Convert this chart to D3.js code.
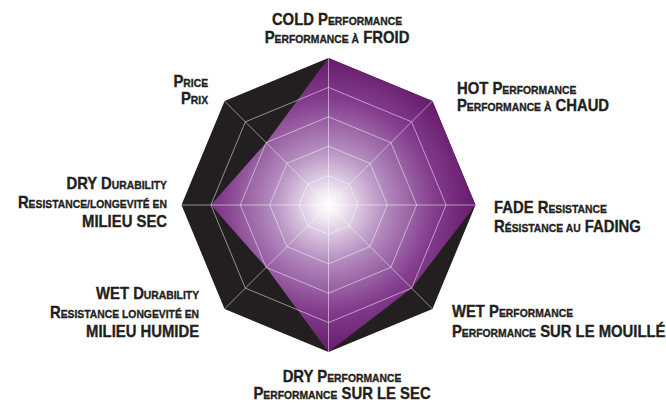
<!DOCTYPE html>
<html>
<head>
<meta charset="utf-8">
<script src="https://cdn.jsdelivr.net/npm/d3@7"></script>
<style>
  html, body { margin: 0; padding: 0; background: #fff; }
  svg { display: block; }
  .lbl { font-family: "Liberation Sans", Arial, sans-serif; font-weight: bold; fill: #231f20; stroke: #231f20; stroke-width: 0.35; }
</style>
</head>
<body>
<script>
// axes, clockwise from the top
var axes = ['COLD Performance', 'HOT Performance', 'FADE Resistance', 'WET Performance',
            'DRY Performance', 'WET Durability', 'DRY Durability', 'Price'];
var values = [1, 1, 1, 0.8, 1, 0.6, 0.8, 0.6];
var levels = [0.2, 0.4, 0.6, 0.8, 1.0];

// label lines (lower case letters are drawn as small caps)
var labels = [
  ['COLD Performance', 'Performance à FROID'],
  ['HOT Performance', 'Performance à CHAUD'],
  ['FADE Resistance', 'Résistance au FADING'],
  ['WET Performance', 'Performance SUR LE MOUILLÉ'],
  ['DRY Performance', 'Performance SUR LE SEC'],
  ['WET Durability', 'Resistance longevité en', 'MILIEU HUMIDE'],
  ['DRY Durability', 'Resistance/longevité en', 'MILIEU SEC'],
  ['Price', 'Prix']
];

var width = 666, height = 403;
var cx = 328.5, cy = 205, R = 147;

// where each label sits relative to the end of its axis
var labelPos = [
  { dx: 8.5, dy: -33, anchor: 'middle', lh: 18 },
  { dx: 24.5, dy: -7, anchor: 'start', lh: 16.5 },
  { dx: 18.5, dy: 8, anchor: 'start', lh: 19 },
  { dx: 19.5, dy: 8, anchor: 'start', lh: 20 },
  { dx: 13.5, dy: 30, anchor: 'middle', lh: 17 },
  { dx: -25.5, dy: -10, anchor: 'end', lh: 19 },
  { dx: -14.5, dy: -16, anchor: 'end', lh: 19 },
  { dx: -16.5, dy: -14, anchor: 'end', lh: 17 }
];

var svg = d3.select('body').append('svg').attr('width', width).attr('height', height);

var r = d3.scaleLinear().domain([0, 1]).range([0, R]);
var angle = d3.scalePoint().domain(axes)
  .range([0, 2 * Math.PI * (axes.length - 1) / axes.length]);

var radial = d3.lineRadial()
  .angle(function (d, i) { return angle(axes[i]); })
  .radius(function (d) { return r(d); })
  .curve(d3.curveLinearClosed);

var defs = svg.append('defs');
var grad = defs.append('radialGradient').attr('id', 'purple')
  .attr('gradientUnits', 'userSpaceOnUse')
  .attr('cx', 0).attr('cy', 0).attr('r', R);
[[0, '#ffffff'], [0.1, '#f0e8f2'], [0.4, '#b188bd'], [0.72, '#833d8c'], [1, '#661a6b']].forEach(function (s) {
  grad.append('stop').attr('offset', s[0]).attr('stop-color', s[1]);
});

var g = svg.append('g').attr('transform', 'translate(' + cx + ',' + cy + ')');

// dark background octagon
g.append('path')
  .attr('d', radial(axes.map(function () { return 1; })))
  .attr('fill', '#231f20');

// value polygon
g.append('path')
  .attr('d', radial(values))
  .attr('fill', 'url(#purple)');

// grid rings and spokes on top
g.selectAll('.ring')
  .data(levels.slice(0, -1))
  .enter()
  .append('path')
  .attr('d', function (l) { return radial(axes.map(function () { return l; })); })
  .attr('fill', 'none')
  .attr('stroke', '#fff')
  .attr('stroke-opacity', 0.5)
  .attr('stroke-width', 1);

g.selectAll('.spoke')
  .data(axes)
  .enter()
  .append('line')
  .attr('x1', 0).attr('y1', 0)
  .attr('x2', function (a) { return r(1) * Math.sin(angle(a)); })
  .attr('y2', function (a) { return -r(1) * Math.cos(angle(a)); })
  .attr('stroke', '#fff')
  .attr('stroke-opacity', 0.5)
  .attr('stroke-width', 1);

// labels
var bigSize = 16.5, smallSize = 11.5, squeeze = 0.9;

function isLow(ch) { return ch !== ch.toUpperCase(); }

function addLine(text, str) {
  // split into runs of big / small caps
  var runs = [];
  for (var i = 0; i < str.length; i++) {
    var ch = str[i];
    var small = isLow(ch);
    if ((ch === ' ' || ch === '/') && i > 0 && i + 1 < str.length) small = isLow(str[i - 1]) && isLow(str[i + 1]);
    if (runs.length && runs[runs.length - 1].small === small) runs[runs.length - 1].t += ch.toUpperCase();
    else runs.push({ small: small, t: ch.toUpperCase() });
  }
  runs.forEach(function (run) {
    text.append('tspan')
      .attr('font-size', run.small ? smallSize : bigSize)
      .text(run.t);
  });
}

axes.forEach(function (a, i) {
  var p = labelPos[i];
  var x = cx + r(1) * Math.sin(angle(a)) + p.dx;
  var y0 = cy - r(1) * Math.cos(angle(a)) + p.dy;
  labels[i].forEach(function (line, j) {
    var t = svg.append('g')
      .attr('transform', 'translate(' + x + ',' + (y0 + j * p.lh) + ') scale(' + squeeze + ',1)')
      .append('text')
      .attr('class', 'lbl')
      .attr('text-anchor', p.anchor)
      .style('white-space', 'pre');
    addLine(t, line);
  });
});
</script>
</body>
</html>
